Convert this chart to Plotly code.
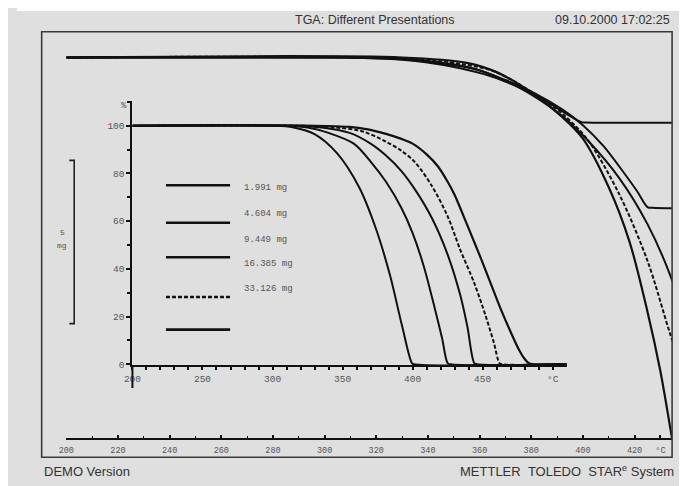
import plotly.graph_objects as go

# ---------------- data ----------------
masses = [1.991, 4.604, 9.449, 16.385, 33.126]  # mg

t1 = [200, 300, 315, 330, 346, 362, 374, 384, 392.5, 399.5, 401, 510]
p1 = [100, 100, 99.3, 96.5, 88.5, 74, 56.5, 37, 16, 0.5, 0, 0]

t2 = [200, 305, 325, 340, 358, 370, 381, 392, 400, 408, 416, 421, 425, 427, 510]
p2 = [100, 100, 99.3, 97, 92.5, 85, 76.5, 65.5, 55, 41, 23, 11, 0.5, 0, 0]

t3 = [200, 315, 335, 355, 370, 381, 392, 402, 414, 425, 434, 439, 444, 446, 510]
p3 = [100, 100, 99.3, 97, 92.5, 87.5, 81, 73, 61, 46, 29, 16, 0.5, 0, 0]

t4 = [200, 320, 345, 365, 381, 392, 402, 414, 425, 434, 444, 452, 458, 462, 464, 510]
p4 = [100, 100, 99.3, 97.5, 93.3, 89.5, 84.5, 74.5, 62, 48, 34, 20.5, 9, 0.5, 0, 0]

t5 = [200, 330, 355, 367, 381, 392, 400, 410, 418, 425, 430, 434, 441, 449, 456, 463, 470, 476, 480, 483, 486, 510]
p5 = [100, 100, 99.5, 98.6, 96.6, 94.5, 92.5, 88, 83, 76.5, 71, 65.5, 55.5, 44, 33.5, 23, 13.5, 6, 2.2, 0.4, 0, 0]

temps = [t1, t2, t3, t4, t5]
pcts = [p1, p2, p3, p4, p5]

main_ticks = [200, 220, 240, 260, 280, 300, 320, 340, 360, 380, 400, 420, 430]
main_ticktext = ["200", "220", "240", "260", "280", "300", "320", "340", "360", "380", "400", "420", "°C"]
inset_xticks = [200, 250, 300, 350, 400, 450, 500]
inset_xticktext = ["200", "250", "300", "350", "400", "450", "°C"]
inset_yticks = [0, 20, 40, 60, 80, 100]
inset_yticktext = ["0", "20", "40", "60", "80", "100"]
scale_bar_mg = 5

# ---------------- styles / geometry ----------------
OFFX, OFFY = 16, 8           # where the page places the figure
W, H = 687 - OFFX, 486 - OFFY
def px(x): return (x - OFFX) / W
def py(y): return 1 - (y - OFFY) / H

dashes = ["solid", "solid", "solid", "4px,2px", "solid"]
widths = [2, 2, 2, 2, 2.2]
BG = "#dfdfdf"
INK = "#111111"
TXT = "#333333"

# main axes pixel geometry
MX0, MX1 = 66, 680
MY_top_px, MY_zero_px, MY_bot_px = 40, 58, 443
PX_PER_C = 2.618
PX_PER_MG = 33.0
# inset axes pixel geometry
IX0, IX1 = 133, 573
IY_top, IY_zero, IY_bot = 102, 368, 369
PX_PER_C2 = 1.42
PX_PER_PCT = 2.41

fig = go.Figure()

for T, P, m, d, w in zip(temps, pcts, masses, dashes, widths):
    fig.add_trace(go.Scatter(
        x=T, y=[m * (p / 100.0 - 1.0) for p in P], mode="lines",
        line=dict(color=INK, width=w, dash=d, shape="spline", smoothing=0.9),
        xaxis="x", yaxis="y", showlegend=False, hoverinfo="skip"))

for T, P, d, w in zip(temps, pcts, dashes, widths):
    fig.add_trace(go.Scatter(
        x=T, y=P, mode="lines",
        line=dict(color=INK, width=w, dash=d, shape="spline", smoothing=0.9),
        xaxis="x2", yaxis="y2", showlegend=False, hoverinfo="skip"))

tickfont_main = dict(family="Liberation Mono", size=8.5, color="#555555")
tickfont_in = dict(family="Liberation Mono", size=9.5, color="#555555")

fig.update_layout(
    width=W, height=H,
    margin=dict(l=0, r=0, t=0, b=0),
    paper_bgcolor=BG, plot_bgcolor="rgba(0,0,0,0)",
    xaxis=dict(domain=[px(MX0), px(MX1)],
               range=[200, 200 + (MX1 - MX0) / PX_PER_C],
               anchor="y", showline=True, linecolor=INK, linewidth=1.5,
               ticks="inside", ticklen=4, tickcolor=INK, tickwidth=1.5,
               tickvals=main_ticks, ticktext=main_ticktext, tickfont=tickfont_main,
               ticklabelstandoff=3,
               minor=dict(dtick=10, tick0=200, ticks="inside", ticklen=3, tickcolor=INK, tickwidth=1),
               showgrid=False, zeroline=False, fixedrange=True),
    yaxis=dict(domain=[py(MY_bot_px), py(MY_top_px)],
               range=[-(MY_bot_px - MY_zero_px) / PX_PER_MG, (MY_zero_px - MY_top_px) / PX_PER_MG],
               visible=False, anchor="x", fixedrange=True),
    xaxis2=dict(domain=[px(IX0), px(IX1)],
                range=[200, 200 + (IX1 - IX0) / PX_PER_C2],
                anchor="y2", showline=True, linecolor=INK, linewidth=2,
                ticks="outside", ticklen=3, tickcolor=INK, tickwidth=1.5,
                tickvals=inset_xticks, ticktext=inset_xticktext, tickfont=tickfont_in,
                minor=dict(dtick=10, tick0=200, ticks="outside", ticklen=3, tickcolor=INK, tickwidth=1.5),
                showgrid=False, zeroline=False, fixedrange=True),
    yaxis2=dict(domain=[py(IY_bot), py(IY_top)],
                range=[-(IY_bot - IY_zero) / PX_PER_PCT, (IY_zero - IY_top) / PX_PER_PCT],
                anchor="x2", showline=True, linecolor=INK, linewidth=2,
                ticks="outside", ticklen=4, tickcolor=INK, tickwidth=1.5,
                tickvals=inset_yticks, ticktext=inset_yticktext, tickfont=tickfont_in,
                minor=dict(dtick=10, tick0=0, ticks="outside", ticklen=3, tickcolor=INK, tickwidth=1.5),
                showgrid=False, zeroline=False, fixedrange=True),
)

shapes = []
# white strip at the top edge (scan edge)
shapes.append(dict(type="rect", xref="paper", yref="paper", x0=0, x1=1, y0=py(11), y1=1,
                   fillcolor="white", line=dict(width=0), layer="below"))
# outer frame
shapes.append(dict(type="rect", xref="paper", yref="paper", x0=px(41), x1=px(680), y0=py(462), y1=py(32),
                   line=dict(color="#3a3a3a", width=1.6)))
# inset y-axis extension below x axis
shapes.append(dict(type="line", xref="paper", yref="paper", x0=px(IX0), x1=px(IX0), y0=py(IY_bot), y1=py(392),
                   line=dict(color=INK, width=2)))
# scale bar "]" in main y units
bar_top = -3.15
bar_bot = bar_top - scale_bar_mg
bx = px(74); bxl = px(69)
shapes.append(dict(type="path", xref="paper", yref="y",
                   path=f"M {bxl},{bar_top} L {bx},{bar_top} L {bx},{bar_bot} L {bxl},{bar_bot}",
                   line=dict(color="#222222", width=1.6)))
# legend samples
leg_line_y = [187, 225, 260, 300, 333]
for yy, d, w in zip(leg_line_y, dashes, widths):
    shapes.append(dict(type="line", xref="paper", yref="paper", x0=px(167), x1=px(232),
                       y0=py(yy), y1=py(yy), line=dict(color=INK, width=w + 0.5, dash=d)))
fig.update_layout(shapes=shapes)

ann = []
def txt(x, y, s, size=12, family="Liberation Sans", color=TXT, xanchor="center"):
    ann.append(dict(x=px(x), y=py(y), xref="paper", yref="paper", text=s, showarrow=False,
                    xanchor=xanchor, yanchor="middle", font=dict(family=family, size=size, color=color)))

txt(379, 20, "TGA: Different Presentations", size=12.5)
txt(680, 20, "09.10.2000 17:02:25", size=12.5, xanchor="right")
txt(41, 476, "DEMO Version", size=13, xanchor="left")
txt(684, 476, "METTLER&nbsp;&nbsp;TOLEDO&nbsp;&nbsp;STAR<sup>e</sup> System", size=13, xanchor="right")
txt(124, 107, "%", size=9, family="Liberation Mono", color="#555555")
txt(62, 235, "5", size=8, family="Liberation Mono", color="#555555")
txt(62, 248, "mg", size=8, family="Liberation Mono", color="#555555")
leg_lab_y = [190, 216, 242, 267, 292]
for yy, m in zip(leg_lab_y, masses):
    txt(244, yy, f"{m:.3f} mg", size=9, family="Liberation Mono", color="#555555", xanchor="left")
fig.update_layout(annotations=ann)

fig.write_html("out.html")
